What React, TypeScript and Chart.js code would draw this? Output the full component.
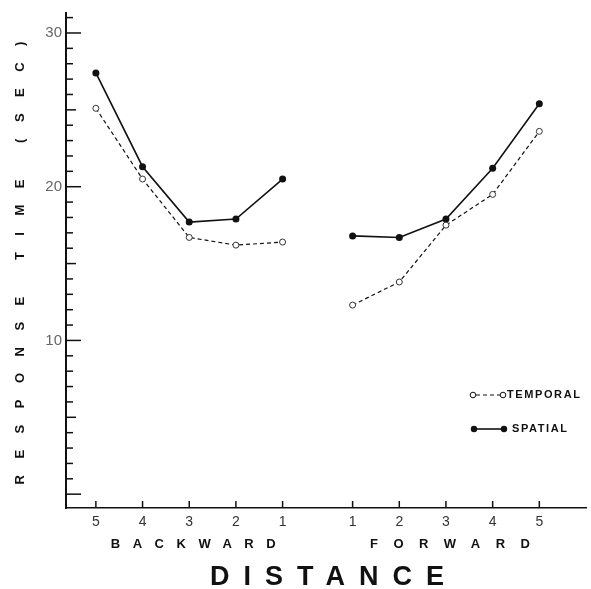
import React, { useEffect, useRef } from "react";
import { Chart, registerables } from "chart.js";

Chart.register(...registerables);

// ---- data ----
const backwardLabels = ["5", "4", "3", "2", "1"];
const forwardLabels = ["1", "2", "3", "4", "5"];
const backwardPos = [0, 1, 2, 3, 4];
const forwardPos = [5.5, 6.5, 7.5, 8.5, 9.5];

const temporalBackward = [25.1, 20.5, 16.7, 16.2, 16.4];
const temporalForward = [12.3, 13.8, 17.5, 19.5, 23.6];
const spatialBackward = [27.4, 21.3, 17.7, 17.9, 20.5];
const spatialForward = [16.8, 16.7, 17.9, 21.2, 25.4];

const yTickValues = [10, 20, 30];
const yMinorTicks = Array.from({ length: 32 }, (_, i) => i);

const Y_MIN = -0.9;
const Y_MAX = 31.3;
const X_MIN = -0.64;
const X_MAX = 10.5;

const INK = "#111";

function buildSeries(back: number[], fwd: number[]) {
  const pts: { x: number; y: number | null }[] = [];
  back.forEach((v, i) => pts.push({ x: backwardPos[i], y: v }));
  pts.push({ x: (backwardPos[4] + forwardPos[0]) / 2, y: null });
  fwd.forEach((v, i) => pts.push({ x: forwardPos[i], y: v }));
  return pts;
}

function labelFor(v: number): string {
  for (let i = 0; i < backwardPos.length; i++)
    if (Math.abs(backwardPos[i] - v) < 1e-6) return backwardLabels[i];
  for (let i = 0; i < forwardPos.length; i++)
    if (Math.abs(forwardPos[i] - v) < 1e-6) return forwardLabels[i];
  return "";
}

function spacedText(
  ctx: CanvasRenderingContext2D,
  text: string,
  cx: number,
  cy: number,
  font: string,
  spacing: number
) {
  ctx.save();
  ctx.font = font;
  (ctx as any).letterSpacing = spacing + "px";
  ctx.textBaseline = "middle";
  ctx.textAlign = "left";
  const w = ctx.measureText(text).width - spacing;
  ctx.fillText(text, cx - w / 2, cy);
  ctx.restore();
}

const decorPlugin = {
  id: "decor",
  afterDraw(chart: any) {
    const ctx: CanvasRenderingContext2D = chart.ctx;
    const { left, bottom } = chart.chartArea;
    const xs = chart.scales.x;
    const ys = chart.scales.y;
    ctx.save();
    ctx.strokeStyle = INK;
    ctx.fillStyle = INK;
    // y ticks (inside)
    ctx.lineWidth = 1.5;
    yMinorTicks.forEach((v) => {
      const y = ys.getPixelForValue(v);
      const len = v % 10 === 0 ? 15 : v % 5 === 0 ? 10 : 7;
      ctx.beginPath();
      ctx.moveTo(left, y);
      ctx.lineTo(left + len, y);
      ctx.stroke();
    });
    // x ticks (inside, upward)
    [...backwardPos, ...forwardPos].forEach((v) => {
      const x = xs.getPixelForValue(v);
      ctx.beginPath();
      ctx.moveTo(x, bottom);
      ctx.lineTo(x, bottom - 7);
      ctx.stroke();
    });

    // y title
    ctx.save();
    ctx.translate(20, 263);
    ctx.rotate(-Math.PI / 2);
    spacedText(ctx, "RESPONSE TIME (SEC)", 0, 0, "bold 13px 'Liberation Sans'", 16.5);
    ctx.restore();

    // group labels
    const bx = xs.getPixelForValue(backwardPos[2]);
    const fx = xs.getPixelForValue(forwardPos[2]);
    spacedText(ctx, "BACKWARD", bx + 4, 544, "bold 13px 'Liberation Sans'", 12.5);
    spacedText(ctx, "FORWARD", fx + 4, 544, "bold 13px 'Liberation Sans'", 15.5);
    spacedText(ctx, "DISTANCE", 327, 578, "bold 27px 'Liberation Sans'", 14);

    // legend
    const legY1 = 395;
    const legY2 = 429;
    ctx.lineWidth = 1.2;
    ctx.setLineDash([4, 3]);
    ctx.beginPath();
    ctx.moveTo(476, legY1);
    ctx.lineTo(500, legY1);
    ctx.stroke();
    ctx.setLineDash([]);
    [473, 503].forEach((x) => {
      ctx.beginPath();
      ctx.arc(x, legY1, 2.8, 0, Math.PI * 2);
      ctx.fillStyle = "#fff";
      ctx.fill();
      ctx.lineWidth = 1;
      ctx.stroke();
    });
    ctx.fillStyle = INK;
    ctx.lineWidth = 1.6;
    ctx.beginPath();
    ctx.moveTo(474, legY2);
    ctx.lineTo(504, legY2);
    ctx.stroke();
    [474, 504].forEach((x) => {
      ctx.beginPath();
      ctx.arc(x, legY2, 3.2, 0, Math.PI * 2);
      ctx.fill();
    });
    ctx.save();
    ctx.font = "bold 11px 'Liberation Sans'";
    (ctx as any).letterSpacing = "1.6px";
    ctx.textBaseline = "middle";
    ctx.fillText("TEMPORAL", 507, legY1);
    ctx.fillText("SPATIAL", 512, legY2);
    ctx.restore();
    ctx.restore();
  },
};

export default function App() {
  const ref = useRef<HTMLCanvasElement>(null);
  useEffect(() => {
    if (!ref.current) return;
    const chart = new Chart(ref.current, {
      type: "line",
      data: {
        datasets: [
          {
            label: "TEMPORAL",
            data: buildSeries(temporalBackward, temporalForward) as any,
            borderColor: INK,
            borderWidth: 1.2,
            borderDash: [4, 3],
            pointRadius: 3,
            pointBackgroundColor: "#fff",
            pointBorderColor: "#333",
            pointBorderWidth: 1,
            spanGaps: false,
            tension: 0,
          },
          {
            label: "SPATIAL",
            data: buildSeries(spatialBackward, spatialForward) as any,
            borderColor: INK,
            borderWidth: 1.6,
            pointRadius: 3.5,
            pointBackgroundColor: INK,
            pointBorderColor: INK,
            pointBorderWidth: 0,
            spanGaps: false,
            tension: 0,
          },
        ],
      },
      options: {
        responsive: false,
        maintainAspectRatio: false,
        animation: false,
        layout: { padding: { left: 0, top: 13, right: 3, bottom: 0 } },
        plugins: { legend: { display: false }, tooltip: { enabled: false } },
        scales: {
          x: {
            type: "linear",
            min: X_MIN,
            max: X_MAX,
            grid: { display: false, drawTicks: false },
            border: { display: true, color: INK, width: 1.5 },
            ticks: {
              padding: 6,
              color: "#333",
              font: { family: "'Liberation Sans'", size: 14 },
              callback: (v: any) => labelFor(Number(v)),
            },
            afterBuildTicks: (s: any) => {
              s.ticks = [...backwardPos, ...forwardPos].map((v) => ({ value: v }));
            },
            afterFit: (s: any) => {
              s.height = 81;
            },
          },
          y: {
            type: "linear",
            min: Y_MIN,
            max: Y_MAX,
            grid: { display: false, drawTicks: false },
            border: { display: true, color: INK, width: 2 },
            ticks: {
              padding: 4,
              color: "#666",
              font: { family: "'Liberation Sans'", size: 15 },
              callback: (v: any) => String(v),
            },
            afterBuildTicks: (s: any) => {
              s.ticks = yTickValues.map((v) => ({ value: v }));
            },
            afterFit: (s: any) => {
              s.width = 66;
            },
          },
        },
      },
      plugins: [decorPlugin],
    });
    return () => chart.destroy();
  }, []);
  return (
    <div style={{ position: "absolute", left: 0, top: 0, width: 591, height: 589, background: "#fff" }}>
      <canvas ref={ref} width={591} height={589} style={{ display: "block" }} />
    </div>
  );
}
